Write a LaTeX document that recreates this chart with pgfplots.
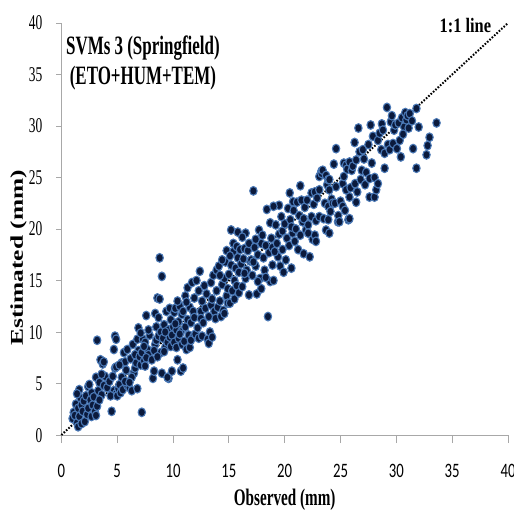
\documentclass[border=0pt]{standalone}
\usepackage{fontspec}
\usepackage{pgfplots}
\pgfplotsset{compat=1.18}
\setmainfont{Liberation Serif}
\newfontfamily\ytickfont[FakeStretch=0.64]{Liberation Serif}
\newfontfamily\xtickfont[FakeStretch=0.72]{Carlito}
\newfontfamily\hbold[FakeStretch=0.64]{Liberation Serif}
\newfontfamily\lbold[FakeStretch=0.8]{Liberation Serif}
\newfontfamily\vbold[FakeStretch=1.41]{Liberation Serif}
\definecolor{ptfill}{HTML}{0B1A3C}
\definecolor{ptedge}{HTML}{4A78B5}
\definecolor{axgray}{HTML}{A8A8A8}
\begin{document}
\begin{tikzpicture}
\begin{axis}[
  at={(0,0)}, anchor=south west,
  scale only axis, width=446.6bp, height=412bp,
  xmin=0, xmax=40, ymin=0, ymax=40,
  axis x line*=bottom, axis y line*=left,
  axis line style={draw=axgray, line width=0.9bp, -},
  tick align=outside,
  xtick={0,5,...,40}, ytick={0,5,...,40},
  xtick style={draw=axgray, line width=0.9bp, /pgfplots/major tick length=8bp},
  ytick style={draw=axgray, line width=0.9bp, /pgfplots/major tick length=5bp},
  /pgf/number format/assume math mode=true,
  xticklabel style={font=\xtickfont\fontsize{20.5bp}{24bp}\selectfont, anchor=base, yshift=-38bp},
  yticklabel style={font=\ytickfont\fontsize{21bp}{24bp}\selectfont, anchor=base east, xshift=-11.4bp, yshift=-7bp},
  xlabel={Observed (mm)},
  xlabel style={font=\hbold\bfseries\fontsize{23.7bp}{28bp}\selectfont, at={(axis description cs:0.5,0)}, anchor=base, yshift=-70bp},
  ylabel={Estimated (mm)},
  ylabel style={font=\vbold\bfseries\fontsize{18bp}{22bp}\selectfont, at={(axis description cs:0,0.43)}, anchor=base, yshift=38.4bp},
  clip=false,
]
\addplot[only marks, mark=*, mark size=3.7bp, mark options={yscale=1.18, fill=ptfill, draw=ptedge, line width=1.1bp}] table {
x y
1.0 1.6
1.1 2.2
1.2 1.9
1.3 3.0
1.4 1.2
1.5 0.8
1.5 2.6
1.6 4.4
1.6 1.8
1.7 3.6
1.8 1.1
1.8 2.9
1.9 2.3
1.4 4.0
2.0 3.3
2.1 1.3
2.2 3.8
2.3 2.0
2.4 4.7
2.4 2.6
2.5 4.9
2.6 3.4
2.7 1.8
2.7 4.1
2.8 2.9
2.9 3.7
3.0 2.3
3.1 1.9
3.1 5.6
3.2 9.2
3.2 2.8
3.3 4.3
3.4 5.1
3.5 7.3
3.6 3.9
3.7 6.9
3.8 4.8
3.8 7.1
3.9 5.7
3.6 5.9
3.4 3.4
4.1 4.6
4.3 5.2
4.5 2.3
4.7 8.3
4.8 9.6
4.9 9.3
4.7 4.3
4.8 6.5
4.9 4.0
4.6 5.7
4.4 3.8
4.9 6.6
5.0 3.8
5.1 4.5
5.2 4.9
5.3 4.1
5.4 7.0
5.5 4.4
5.6 8.0
5.7 7.1
5.8 6.3
5.9 8.3
5.4 5.6
5.9 4.8
5.2 6.8
5.7 5.2
6.1 4.6
6.2 7.4
6.3 4.3
6.4 8.8
6.5 6.0
6.6 6.5
6.7 7.0
6.8 4.5
6.9 8.2
6.9 10.4
6.3 5.6
6.6 7.8
6.8 9.3
6.1 5.1
7.0 7.6
7.1 6.8
7.2 2.2
7.2 8.0
7.3 9.3
7.4 7.2
7.5 6.7
7.5 9.0
7.6 11.6
7.7 8.3
7.8 7.8
7.9 9.7
7.4 8.6
7.8 10.2
7.1 9.9
7.6 7.5
8.1 7.3
8.2 5.5
8.3 6.2
8.4 11.8
8.4 8.8
8.5 9.2
8.6 13.3
8.7 11.4
8.7 9.6
8.8 17.2
8.8 13.2
8.9 8.0
9.0 15.4
8.5 10.5
8.3 8.2
8.9 10.0
8.6 7.6
9.0 6.0
9.1 9.4
9.2 10.7
9.3 8.5
9.4 12.0
9.5 9.0
9.6 5.5
9.6 10.2
9.7 9.5
9.8 8.6
9.8 11.2
9.9 9.7
9.3 10.0
9.5 5.6
9.9 6.2
9.2 8.1
9.7 12.3
10.0 10.5
10.1 9.0
10.1 11.9
10.2 12.3
10.3 8.5
10.3 10.2
10.4 7.3
10.5 11.0
10.5 9.4
10.6 12.5
10.7 6.2
10.7 10.0
10.8 8.8
10.8 11.7
10.9 6.5
10.9 12.0
10.2 10.8
10.6 9.8
10.4 13.0
11.0 9.1
11.1 10.5
11.1 13.5
11.2 8.3
11.3 11.2
11.3 14.3
11.4 9.7
11.5 12.4
11.5 8.5
11.6 10.9
11.7 14.8
11.8 9.5
11.8 12.0
11.9 11.4
11.2 12.9
11.6 9.2
11.9 13.3
12.0 9.8
12.1 15.0
12.2 10.4
12.3 9.4
12.4 15.9
12.5 12.0
12.5 11.3
12.6 13.0
12.7 10.9
12.8 14.5
12.9 12.3
12.3 14.0
12.6 9.6
13.0 13.7
13.1 9.3
13.2 8.9
13.3 10.0
13.4 12.6
13.4 14.8
13.5 9.5
13.6 15.5
13.7 12.0
13.8 11.3
13.9 14.0
13.9 16.0
13.5 13.2
13.2 11.5
14.0 12.4
14.1 16.4
14.2 13.0
14.3 11.5
14.4 14.6
14.5 12.1
14.6 15.2
14.7 16.8
14.8 13.5
14.8 17.9
14.9 14.2
14.4 17.0
14.6 11.8
14.2 15.5
14.9 12.8
15.0 15.6
15.1 12.8
15.2 19.9
15.2 16.5
15.3 14.0
15.4 17.8
15.5 13.2
15.5 15.0
15.6 16.2
15.7 14.5
15.8 19.7
15.8 17.2
15.9 15.8
15.4 18.6
15.9 13.8
15.1 17.4
15.7 18.3
16.0 18.0
16.1 16.6
16.2 14.4
16.3 17.1
16.4 18.1
16.5 19.6
16.5 15.2
16.6 16.0
16.7 17.9
16.8 13.6
16.9 16.9
16.2 19.2
16.8 18.6
16.4 15.7
17.0 17.0
17.1 15.5
17.2 23.7
17.3 18.2
17.4 16.4
17.5 13.7
17.6 17.5
17.7 19.9
17.8 15.2
17.9 14.2
17.9 18.6
17.4 19.0
17.6 14.9
17.2 16.8
18.0 19.4
18.1 17.2
18.2 16.0
18.3 18.4
18.4 21.9
18.5 11.5
18.6 17.7
18.7 14.9
18.8 19.1
18.9 16.5
18.3 15.3
18.7 20.6
18.9 18.2
19.0 15.0
19.2 20.4
19.3 18.6
19.4 17.3
19.5 19.5
19.6 16.4
19.7 21.2
19.8 18.0
19.9 15.8
19.5 22.3
19.1 17.8
19.8 19.8
19.0 22.2
20.0 20.5
20.1 17.0
20.2 19.1
20.3 22.0
20.4 18.4
20.5 20.9
20.6 16.2
20.7 19.6
20.8 21.8
20.9 18.8
20.45 23.5
20.6 20.2
20.75 22.65
21.0 20.0
21.1 22.6
21.2 18.0
21.3 21.3
21.4 19.4
21.5 22.8
21.6 20.7
21.7 17.6
21.8 22.1
21.9 19.9
21.4 24.2
21.7 21.0
22.0 22.8
22.1 20.4
22.24 17.3
22.4 23.5
22.4 21.2
22.5 19.0
22.6 22.4
22.7 23.6
22.7 19.4
22.8 18.8
22.8 20.8
22.9 23.0
22.1 19.6
23.1 23.8
23.1 25.1
23.1 21.2
23.28 25.6
23.3 25.4
23.4 25.7
23.5 21.0
23.6 22.5
23.7 25.2
23.7 19.9
23.8 24.3
23.9 22.2
23.9 24.8
23.9 20.9
24.0 23.8
24.0 19.6
24.1 21.7
24.2 22.9
24.3 22.5
24.5 22.5
24.6 27.8
24.6 24.1
24.77 20.7
24.8 21.3
24.9 20.7
24.4 26.3
24.0 24.8
25.0 22.7
25.2 24.4
25.2 22.2
25.3 26.4
25.4 21.8
25.5 23.8
25.5 26.2
25.6 25.8
25.7 20.9
25.8 26.5
25.8 23.1
25.8 21.0
25.9 24.0
25.3 25.1
26.0 25.7
26.1 26.1
26.26 28.4
26.3 24.4
26.4 26.7
26.5 23.6
26.6 29.8
26.7 27.5
26.8 24.8
26.9 25.7
26.4 22.6
27.0 27.7
27.1 26.8
27.2 24.3
27.3 25.5
27.5 28.2
27.6 24.9
27.6 23.1
27.7 30.1
27.9 29.0
27.8 26.4
28.05 25.0
28.05 23.1
28.2 23.8
28.35 28.6
28.35 24.4
28.5 29.3
28.65 27.7
28.7 30.2
28.95 27.35
28.95 25.9
28.8 29.6
29.16 31.8
29.25 28.2
29.4 27.7
29.5 30.4
29.7 28.3
29.8 29.6
29.6 31.0
29.9 30.1
30.05 27.8
30.3 28.6
30.4 27.0
30.2 30.3
30.5 30.8
30.7 29.9
30.8 31.3
30.9 30.6
30.6 29.2
31.0 31.0
31.2 31.2
31.4 30.5
31.5 27.8
31.8 25.9
31.8 31.7
32.0 29.9
32.7 27.2
32.8 28.1
32.97 28.9
33.6 30.3
31.1 29.8
};
\addplot[black, line width=2bp, dash pattern=on 1.6bp off 1.6bp] coordinates {(0,0) (40,40)};
\node[font=\hbold\bfseries\fontsize{26.5bp}{30bp}\selectfont, anchor=base] at (axis cs:7.3,36.9) {SVMs 3 (Springfield)};
\node[font=\hbold\bfseries\fontsize{26.5bp}{30bp}\selectfont, anchor=base] at (axis cs:7.3,34.0) {(ETO+HUM+TEM)};
\node[font=\lbold\bfseries\fontsize{20.5bp}{24bp}\selectfont, anchor=base east] at (axis cs:38.8,39.1) {1:1 line};
\end{axis}
\pgfresetboundingbox
\path[use as bounding box] (-61.4bp,-79bp) rectangle (452.6bp,435bp);
\end{tikzpicture}
\end{document}
